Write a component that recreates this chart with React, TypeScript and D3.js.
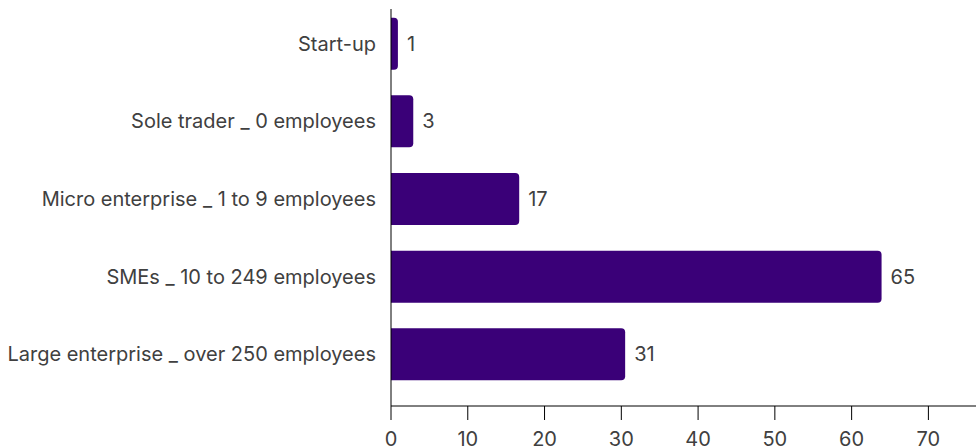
import React from "react";
import * as d3 from "d3";

const categories = [
  "Start-up",
  "Sole trader _ 0 employees",
  "Micro enterprise _ 1 to 9 employees",
  "SMEs _ 10 to 249 employees",
  "Large enterprise _ over 250 employees",
];
const values = [0.9, 2.9, 16.7, 63.9, 30.5];
const valueLabels = ["1", "3", "17", "65", "31"];
const xTicks = [0, 10, 20, 30, 40, 50, 60, 70];

const W = 976;
const H = 448;
const x0 = 391;
const axisY = 406;
const FONT = "Inter, 'Noto Sans', sans-serif";
const TEXT = "#404040";
const BAR = "#3a0078";

function barPath(x: number, y: number, w: number, h: number, r: number) {
  const rr = Math.min(r, w, h / 2);
  return `M${x},${y}H${x + w - rr}Q${x + w},${y} ${x + w},${y + rr}V${y + h - rr}Q${x + w},${y + h} ${x + w - rr},${y + h}H${x}Z`;
}

export default function App() {
  const x = d3.scaleLinear().domain([0, 76.2]).range([x0, W]);
  const y = d3
    .scaleBand<string>()
    .domain(categories)
    .range([6, 392])
    .paddingInner(0.33)
    .paddingOuter(0.15);

  return (
    <svg width={W} height={H} style={{ position: "absolute", left: 0, top: 0 }}>
      <rect width={W} height={H} fill="#fff" />
      {categories.map((c, i) => {
        const yy = y(c)!;
        const bw = y.bandwidth();
        const xe = x(values[i]);
        return (
          <g key={c}>
            <path d={barPath(x0, yy, xe - x0, bw, 4)} fill={BAR} />
            <text
              x={x0 - 15}
              y={yy + bw / 2}
              textAnchor="end"
              dominantBaseline="central"
              fontFamily={FONT}
              fontSize={20}
              fill={TEXT}
            >
              {c}
            </text>
            <text
              x={xe + 9}
              y={yy + bw / 2}
              dominantBaseline="central"
              fontFamily={FONT}
              fontSize={20}
              fill={TEXT}
            >
              {valueLabels[i]}
            </text>
          </g>
        );
      })}
      <line x1={x0} x2={x0} y1={9} y2={axisY} stroke="#000" strokeWidth={1} />
      <line x1={x0} x2={W} y1={axisY} y2={axisY} stroke="#000" strokeWidth={1} />
      {xTicks.map((t) => (
        <g key={t}>
          <line x1={x(t)} x2={x(t)} y1={axisY} y2={axisY + 14} stroke="#000" strokeWidth={1} />
          <text
            x={x(t)}
            y={446}
            textAnchor="middle"
            fontFamily={FONT}
            fontSize={20}
            fill={TEXT}
          >
            {t}
          </text>
        </g>
      ))}
    </svg>
  );
}
